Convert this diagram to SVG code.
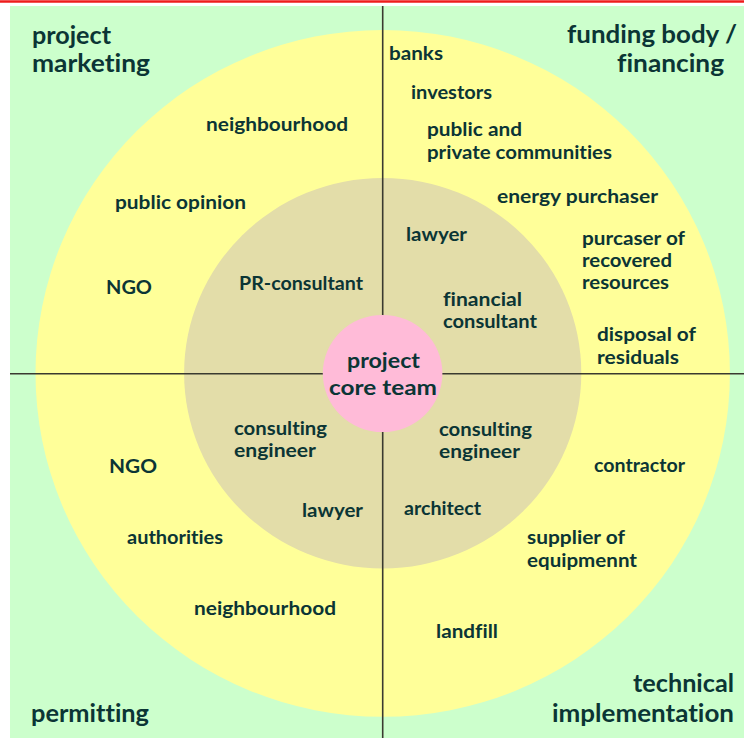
<svg xmlns="http://www.w3.org/2000/svg" width="744" height="738" viewBox="0 0 744 738">
<style>
text{font-family:Lato,"Open Sans","Liberation Sans",sans-serif;font-weight:700;fill:#0b3535;font-variant-ligatures:none}
.c{font-size:24px}
.o{font-size:18px}
.m{font-size:21px}
.ax{stroke:#3a3a30;stroke-width:1.6;fill:none}
</style>
<rect x="0" y="0" width="744" height="738" fill="#ffffff"/>
<line x1="0" y1="1.5" x2="744" y2="1.5" stroke="#ee1c1c" stroke-width="2.5"/>
<rect x="10" y="6" width="734" height="732" fill="#ccffcc"/>
<g id="outer-ring"><ellipse cx="382.7" cy="373.4" rx="347.2" ry="343.4" fill="#ffff99"/></g>
<g id="inner-ring"><ellipse cx="382.7" cy="373.2" rx="198.6" ry="195.2" fill="#e3dda9"/></g>
<g id="connectors">
<line class="ax" x1="382.7" y1="6" x2="382.7" y2="738"/>
<line class="ax" x1="10" y1="373.8" x2="744" y2="373.8"/>
</g>
<g id="core">
<ellipse cx="382.6" cy="373.5" rx="59.8" ry="58.6" fill="#ffbbd8"/>
<text class="m" x="347" y="368" textLength="73" lengthAdjust="spacingAndGlyphs">project</text>
<text class="m" x="329" y="395" textLength="108" lengthAdjust="spacingAndGlyphs">core team</text>
</g>
<g id="project-marketing">
<text class="c" x="32" y="44" textLength="79" lengthAdjust="spacingAndGlyphs">project</text>
<text class="c" x="32" y="72" textLength="118" lengthAdjust="spacingAndGlyphs">marketing</text>
</g>
<g id="funding-body">
<text class="c" x="567" y="43" textLength="170" lengthAdjust="spacingAndGlyphs">funding body /</text>
<text class="c" x="617" y="72" textLength="107" lengthAdjust="spacingAndGlyphs">financing</text>
</g>
<g id="permitting">
<text class="c" x="31" y="722" textLength="118" lengthAdjust="spacingAndGlyphs">permitting</text>
</g>
<g id="technical-implementation">
<text class="c" x="633" y="692" textLength="101" lengthAdjust="spacingAndGlyphs">technical</text>
<text class="c" x="552" y="722" textLength="182" lengthAdjust="spacingAndGlyphs">implementation</text>
</g>
<g id="neighbourhood-top"><text class="o" x="206" y="131" textLength="142" lengthAdjust="spacingAndGlyphs">neighbourhood</text></g>
<g id="public-opinion"><text class="o" x="115" y="209" textLength="131" lengthAdjust="spacingAndGlyphs">public opinion</text></g>
<g id="ngo-top"><text class="o" x="106" y="294" textLength="46" lengthAdjust="spacingAndGlyphs">NGO</text></g>
<g id="pr-consultant"><text class="o" x="239" y="290" textLength="124" lengthAdjust="spacingAndGlyphs">PR-consultant</text></g>
<g id="banks"><text class="o" x="389" y="60" textLength="54" lengthAdjust="spacingAndGlyphs">banks</text></g>
<g id="investors"><text class="o" x="411" y="99" textLength="81" lengthAdjust="spacingAndGlyphs">investors</text></g>
<g id="communities">
<text class="o" x="427" y="136" textLength="95" lengthAdjust="spacingAndGlyphs">public and</text>
<text class="o" x="427" y="159" textLength="185" lengthAdjust="spacingAndGlyphs">private communities</text>
</g>
<g id="energy-purchaser"><text class="o" x="497" y="203" textLength="161" lengthAdjust="spacingAndGlyphs">energy purchaser</text></g>
<g id="lawyer-top"><text class="o" x="406" y="241" textLength="61" lengthAdjust="spacingAndGlyphs">lawyer</text></g>
<g id="purchaser-resources">
<text class="o" x="582" y="245" textLength="103" lengthAdjust="spacingAndGlyphs">purcaser of</text>
<text class="o" x="582" y="267" textLength="90" lengthAdjust="spacingAndGlyphs">recovered</text>
<text class="o" x="582" y="289" textLength="87" lengthAdjust="spacingAndGlyphs">resources</text>
</g>
<g id="financial-consultant">
<text class="o" x="443" y="306" textLength="79" lengthAdjust="spacingAndGlyphs">financial</text>
<text class="o" x="443" y="328" textLength="94" lengthAdjust="spacingAndGlyphs">consultant</text>
</g>
<g id="disposal">
<text class="o" x="597" y="341" textLength="99" lengthAdjust="spacingAndGlyphs">disposal of</text>
<text class="o" x="597" y="364" textLength="82" lengthAdjust="spacingAndGlyphs">residuals</text>
</g>
<g id="consulting-engineer-left">
<text class="o" x="234" y="435" textLength="93" lengthAdjust="spacingAndGlyphs">consulting</text>
<text class="o" x="234" y="457" textLength="82" lengthAdjust="spacingAndGlyphs">engineer</text>
</g>
<g id="ngo-bottom"><text class="o" x="109" y="473" textLength="48" lengthAdjust="spacingAndGlyphs">NGO</text></g>
<g id="lawyer-bottom"><text class="o" x="302" y="517" textLength="61" lengthAdjust="spacingAndGlyphs">lawyer</text></g>
<g id="authorities"><text class="o" x="127" y="544" textLength="96" lengthAdjust="spacingAndGlyphs">authorities</text></g>
<g id="neighbourhood-bottom"><text class="o" x="194" y="615" textLength="142" lengthAdjust="spacingAndGlyphs">neighbourhood</text></g>
<g id="consulting-engineer-right">
<text class="o" x="439" y="436" textLength="93" lengthAdjust="spacingAndGlyphs">consulting</text>
<text class="o" x="439" y="458" textLength="81" lengthAdjust="spacingAndGlyphs">engineer</text>
</g>
<g id="contractor"><text class="o" x="594" y="472" textLength="91" lengthAdjust="spacingAndGlyphs">contractor</text></g>
<g id="architect"><text class="o" x="404" y="515" textLength="77" lengthAdjust="spacingAndGlyphs">architect</text></g>
<g id="supplier">
<text class="o" x="527" y="544" textLength="98" lengthAdjust="spacingAndGlyphs">supplier of</text>
<text class="o" x="527" y="567" textLength="110" lengthAdjust="spacingAndGlyphs">equipmennt</text>
</g>
<g id="landfill"><text class="o" x="436" y="638" textLength="62" lengthAdjust="spacingAndGlyphs">landfill</text></g>
</svg>
